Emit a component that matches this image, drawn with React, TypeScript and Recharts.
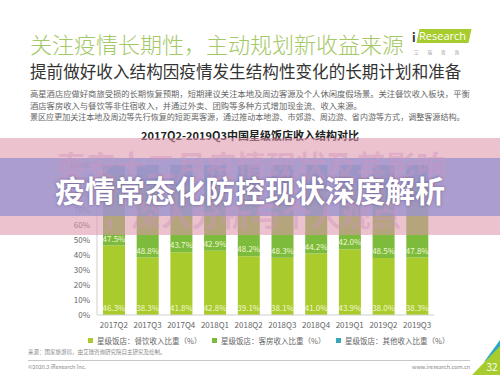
import { BarChart, Bar, XAxis, YAxis, LabelList, Legend } from 'recharts';

const FONT = '"Noto Sans CJK SC", "Noto Sans", sans-serif';

// 2017Q2-2019Q3 中国星级饭店收入结构（%）
const quarters = ['2017Q2', '2017Q3', '2017Q4', '2018Q1', '2018Q2', '2018Q3', '2018Q4', '2019Q1', '2019Q2', '2019Q3'];
const foodShare = [46.3, 38.3, 41.8, 42.8, 39.1, 38.1, 41.0, 43.9, 38.0, 38.3];
const roomShare = [47.5, 48.8, 43.7, 42.9, 48.2, 48.3, 44.2, 42.0, 48.5, 47.8];
const otherShare = [6.2, 12.9, 14.5, 14.3, 12.7, 13.6, 14.8, 14.1, 13.5, 13.9];
const yTicks = [0, 10, 20, 30, 40, 50, 60, 70, 80, 90, 100];
const seriesNames = ['星级饭店：餐饮收入比重（%）', '星级饭店：客房收入比重（%）', '星级饭店：其他收入比重（%）'];

const rows = quarters.map((q, i) => ({ q, food: foodShare[i], room: roomShare[i], other: otherShare[i] }));

const pct = (v: any) => Number(v).toFixed(1) + '%';

const Txt = ({ x, y, size, color, weight, children, center, spacing }: any) => (
  <div
    style={{
      position: 'absolute',
      left: center ? x - 300 : x,
      width: center ? 600 : undefined,
      textAlign: center ? 'center' : 'left',
      top: y - size / 2,
      fontSize: size,
      lineHeight: `${size}px`,
      color,
      fontWeight: weight || 400,
      whiteSpace: 'nowrap',
      letterSpacing: spacing || 0
    }}
  >
    {children}
  </div>
);

const renderLegend = (props: any) => {
  const items = [...(props.payload || [])].sort(
    (a: any, b: any) => seriesNames.indexOf(a.value) - seriesNames.indexOf(b.value)
  );
  return (
    <div style={{ display: 'flex', fontFamily: FONT }}>
      {items.map((p: any) => (
        <div key={p.value} style={{ width: 124, display: 'flex', alignItems: 'center', fontSize: 7.5, color: '#666' }}>
          <span style={{ width: 5, height: 5, background: p.color, marginRight: 4, display: 'inline-block' }} />
          {p.value}
        </div>
      ))}
    </div>
  );
};

export default function App() {
  const tick = { fontSize: 8, fill: '#666', fontFamily: FONT };
  return (
    <div
      style={{
        position: 'fixed',
        left: 0,
        top: 0,
        width: 500,
        height: 375,
        background: '#fff',
        overflow: 'hidden',
        fontFamily: FONT
      }}
    >
      <Txt x={30} y={43} size={22} color="#a3c866" weight={300}>关注疫情长期性，主动规划新收益来源</Txt>
      <Txt x={30} y={71} size={16.6} color="#333">提前做好收入结构因疫情发生结构性变化的长期计划和准备</Txt>
      <Txt x={30} y={93} size={8.3} color="#666">
        高星酒店应做好商旅受损的长期恢复预期，短期建议关注本地及周边客源及个人休闲度假场景。关注餐饮收入板块，平衡
      </Txt>
      <Txt x={30} y={105} size={8.3} color="#666">酒店客房收入与餐饮等非住宿收入，并通过外卖、团购等多种方式增加现金流、收入来源。</Txt>
      <Txt x={30} y={117} size={8.05} color="#666">
        景区应更加关注本地及周边等先行恢复的短距离客源，通过推动本地游、市郊游、周边游、省内游等方式，调整客源结构。
      </Txt>

      {/* logo */}
      <div style={{ position: 'absolute', left: 412, top: 31, fontSize: 12, lineHeight: '12px', color: '#333', fontWeight: 700 }}>i</div>
      <div
        style={{
          position: 'absolute',
          left: 418,
          top: 29,
          width: 52,
          height: 14,
          background: '#a6cc2e',
          transform: 'skewX(-12deg)'
        }}
      />
      <div
        style={{
          position: 'absolute',
          left: 419,
          top: 29,
          fontSize: 11,
          lineHeight: '14px',
          color: '#fff',
          fontFamily: '"Open Sans", sans-serif'
        }}
      >
        Research
      </div>
      <Txt x={414} y={52} size={4.5} color="#999" spacing={9}>艾瑞咨询</Txt>

      <Txt x={250} y={135} size={11} color="#222" weight={700} center>
        2017Q2-2019Q3中国星级饭店收入结构对比
      </Txt>

      <div style={{ position: 'absolute', left: 0, top: 150 }}>
        <BarChart width={500} height={200} data={rows} margin={{ top: 15, right: 66, bottom: 20, left: 0 }} barSize={22}>
          <XAxis
            dataKey="q"
            height={15}
            interval={0}
            tickLine={false}
            tickMargin={1}
            axisLine={{ stroke: '#cfcfcf' }}
            tick={tick}
          />
          <YAxis
            domain={[0, 100]}
            ticks={yTicks}
            width={97}
            tickLine={false}
            tickMargin={1}
            axisLine={{ stroke: '#cfcfcf' }}
            tickFormatter={(v: number) => v + '%'}
            tick={tick}
          />
          <YAxis yAxisId="frame" orientation="right" width={0} tick={false} tickLine={false} axisLine={{ stroke: '#cfcfcf' }} />
          <Legend
            layout="horizontal"
            verticalAlign="middle"
            align="center"
            content={renderLegend}
            wrapperStyle={{ left: 88, top: 185, width: 380 }}
          />
          <Bar dataKey="food" name={seriesNames[0]} stackId="s" fill="#a9cb2c" isAnimationActive={false}>
            <LabelList dataKey="food" position="insideBottom" offset={4} formatter={pct} fill="#f2f7d5" fontSize={8} fontFamily={FONT} />
          </Bar>
          <Bar dataKey="room" name={seriesNames[1]} stackId="s" fill="#7dbb3c" isAnimationActive={false}>
            <LabelList dataKey="room" position="insideBottom" offset={4} formatter={pct} fill="#f2f7d5" fontSize={8} fontFamily={FONT} />
          </Bar>
          <Bar dataKey="other" name={seriesNames[2]} stackId="s" fill="#3aa6b9" isAnimationActive={false} />
        </BarChart>
      </div>

      {/* banner overlay */}
      <div style={{ position: 'absolute', left: 0, top: 138, width: 500, height: 97, background: 'rgba(222,150,172,0.58)' }} />
      <div style={{ position: 'absolute', left: 0, top: 158, width: 500, height: 58, background: 'rgba(155,148,205,0.8)' }} />
      <Txt x={251} y={164} size={30} color="rgba(205,150,190,0.45)" weight={700} center>秦安十二月疫情现状及其影响</Txt>
      <Txt x={251} y={213} size={30} color="rgba(205,150,190,0.45)" weight={700} center>，深入分析与个人观点</Txt>
      <div
        style={{
          position: 'absolute',
          left: 0,
          width: 500,
          top: 174,
          textAlign: 'center',
          fontSize: 30,
          lineHeight: '30px',
          fontWeight: 700,
          color: '#fff',
          whiteSpace: 'nowrap',
          textShadow: '0 0 3px rgba(70,50,100,0.55)'
        }}
      >
        疫情常态化防控现状深度解析
      </div>

      {/* footer */}
      <Txt x={28} y={353} size={5.5} color="#888">来源：国家旅游局，由艾瑞咨询研究院自主研究及绘制。</Txt>
      <div style={{ position: 'absolute', left: 28, top: 360, width: 442, height: 1, background: '#c8c8c8' }} />
      <Txt x={28} y={368} size={5.5} color="#888">©2020.3 iResearch Inc.</Txt>
      <Txt x={412} y={368} size={5.5} color="#888">www.iresearch.com.cn</Txt>
      <svg width={500} height={375} style={{ position: 'absolute', left: 0, top: 0 }}>
        <polygon points="484,362 500,340 500,352" fill="#2aa7c6" />
        <polygon points="472,375 500,346 500,375" fill="#a6cc2e" />
        <text x={492} y={371} fontSize={10} fill="#fff" textAnchor="middle" fontFamily={FONT}>32</text>
      </svg>
    </div>
  );
}
